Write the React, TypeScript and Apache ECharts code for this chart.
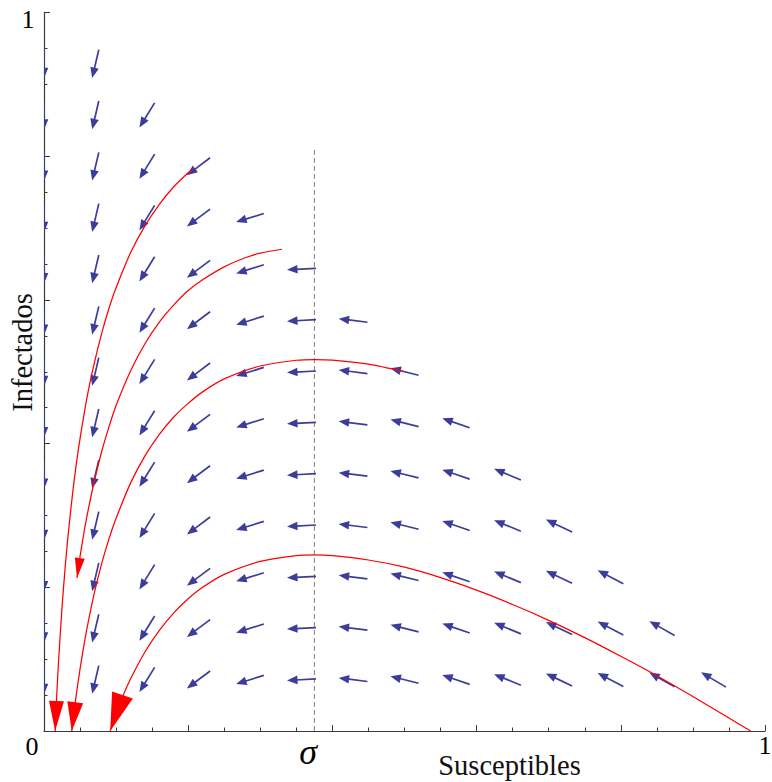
import React, { useEffect, useRef } from "react";
import * as echarts from "echarts";

// ---- data ----
const SIGMA = 0.375; // position of the dashed line (σ)
const SIGMA_LINE_TOP = 0.811;

// vector-field grid (S columns, I rows)
const gridS = [0, 0.0714, 0.1429, 0.2143, 0.2857, 0.3571, 0.4286, 0.5, 0.5714, 0.6429, 0.7143, 0.7857, 0.8571, 0.9286];
const gridI = [0.0714, 0.1429, 0.2143, 0.2857, 0.3571, 0.4286, 0.5, 0.5714, 0.6429, 0.7143, 0.7857, 0.8571, 0.9286];
// arrow direction per column (degrees, counter-clockwise from +S)
const columnAngleDeg = [-90, -103.2, -121.6, -143.1, -162.6, -177.1, 172.9, 166.0, 161.0, 157.4, 154.6, 152.4, 150.6, 149.2];
// number of arrows in each row (from the left), rows bottom to top
const arrowsPerRow = [14, 13, 12, 11, 10, 9, 8, 7, 6, 5, 4, 3, 2];

// trajectories (S, I)
const curve1 = [
  [0.207, 0.783], [0.2, 0.777], [0.18, 0.7575], [0.16, 0.733], [0.14, 0.703], [0.12, 0.6655],
  [0.1, 0.617], [0.09, 0.588], [0.08, 0.5535], [0.07, 0.513], [0.06, 0.466], [0.05, 0.407],
  [0.045, 0.373], [0.04, 0.3335], [0.035, 0.288], [0.03, 0.2355], [0.025, 0.172], [0.02, 0.094],
  [0.0175, 0.046], [0.0155, 0],
];
const curve2 = [
  [0.33, 0.6705], [0.3, 0.665], [0.28, 0.659], [0.25, 0.646], [0.22, 0.628], [0.2, 0.613],
  [0.18, 0.593], [0.16, 0.569], [0.14, 0.539], [0.12, 0.501], [0.1, 0.453], [0.09, 0.423],
  [0.08, 0.389], [0.07, 0.349], [0.06, 0.301], [0.055, 0.2735], [0.05, 0.243], [0.0458, 0.213],
];
const curve3 = [
  [0.5, 0.5], [0.45, 0.5105], [0.4, 0.5163], [0.375, 0.517], [0.35, 0.516], [0.3, 0.508],
  [0.25, 0.49], [0.22, 0.472], [0.2, 0.456], [0.18, 0.437], [0.16, 0.413], [0.14, 0.383],
  [0.12, 0.345], [0.1, 0.296], [0.09, 0.267], [0.08, 0.233], [0.07, 0.193], [0.06, 0.145],
  [0.055, 0.117], [0.05, 0.0865], [0.045, 0.052], [0.042, 0.029], [0.04, 0.013], [0.0385, 0],
];
const curve4 = [
  [0.98, 0], [0.95, 0.018], [0.9, 0.048], [0.85, 0.077], [0.8, 0.104], [0.75, 0.13],
  [0.7, 0.154], [0.65, 0.176], [0.6, 0.196], [0.55, 0.2135], [0.5, 0.228], [0.45, 0.238],
  [0.4, 0.244], [0.375, 0.245], [0.35, 0.244], [0.3, 0.236], [0.25, 0.218], [0.22, 0.2],
  [0.2, 0.184], [0.18, 0.1645], [0.16, 0.14], [0.14, 0.11], [0.12, 0.0725], [0.11, 0.05],
  [0.1, 0.024], [0.0918, 0],
];
// arrowheads at curve ends: [tipS, tipI, backS, backI]
const curveHeads = [
  [0.0155, 0, 0.0175, 0.046],
  [0.0458, 0.213, 0.05, 0.243],
  [0.0385, 0, 0.042, 0.029],
  [0.0918, 0, 0.1, 0.024],
];

const xTickLabels = ["0", "1"];
const yTickLabels = ["1"];
const sigmaLabel = "σ";
const xTitle = "Susceptibles";
const yTitle = "Infectados";

// ---- styles ----
const BLUE = "#3c3c9a";
const RED = "#ff0000";
const AXIS = "#3a3a3a";
const FONT = "'Liberation Serif', 'Times New Roman', serif";
const headLen = [30, 20, 29, 38];
const headWid = [15, 10, 16, 22];

export default function App() {
  const ref = useRef<HTMLDivElement>(null);

  useEffect(() => {
    const chart = echarts.init(ref.current!, null, { renderer: "svg" });

    const arrowData: number[][] = [];
    gridI.forEach((iv, r) => {
      for (let c = 0; c < arrowsPerRow[r]; c++) arrowData.push([gridS[c], iv, columnAngleDeg[c]]);
    });
    const headData = curveHeads.map((h, i) => [...h, i]);

    const axisCommon = {
      type: "value",
      min: 0,
      max: 1,
      interval: 0.2,
      axisLine: { show: true, onZero: false, lineStyle: { color: AXIS, width: 1.2 } },
      axisTick: { show: true, inside: true, length: 6, lineStyle: { color: AXIS, width: 1 } },
      minorTick: { show: true, splitNumber: 4, length: 3.5, lineStyle: { color: AXIS, width: 1 } },
      axisLabel: { show: false },
      splitLine: { show: false },
      minorSplitLine: { show: false },
    };

    const redLine = (data: number[][]) => ({
      type: "line",
      data,
      showSymbol: false,
      symbol: "none",
      smooth: 0.25,
      z: 4,
      lineStyle: { color: RED, width: 1.25 },
      silent: true,
    });

    const option: any = {
      animation: false,
      backgroundColor: "#ffffff",
      grid: { left: 44, top: 12.5, width: 721, height: 718.5, outerBoundsMode: "none" },
      xAxis: { ...axisCommon },
      yAxis: { ...axisCommon },
      series: [
        {
          type: "line",
          data: [[SIGMA, 0], [SIGMA, SIGMA_LINE_TOP]],
          showSymbol: false,
          symbol: "none",
          z: 1,
          lineStyle: { color: "#808080", width: 1, type: [5, 3] },
          silent: true,
        },
        {
          type: "custom",
          clip: true,
          z: 3,
          silent: true,
          encode: { x: 0, y: 1 },
          data: arrowData,
          renderItem: (params: any, api: any) => {
            const p = api.coord([api.value(0), api.value(1)]);
            const a = (api.value(2) * Math.PI) / 180;
            const dx = Math.cos(a);
            const dy = -Math.sin(a);
            const L = 29;
            const HL = 10.5;
            const HW = 4.3;
            const tail = [p[0] - (dx * L) / 2, p[1] - (dy * L) / 2];
            const tip = [p[0] + (dx * L) / 2, p[1] + (dy * L) / 2];
            const base = [tip[0] - dx * HL, tip[1] - dy * HL];
            const px = -dy;
            const py = dx;
            return {
              type: "group",
              children: [
                {
                  type: "line",
                  shape: { x1: tail[0], y1: tail[1], x2: base[0] + dx * 2, y2: base[1] + dy * 2 },
                  style: { stroke: BLUE, lineWidth: 1.7 },
                },
                {
                  type: "polygon",
                  shape: {
                    points: [tip, [base[0] + px * HW, base[1] + py * HW], [base[0] - px * HW, base[1] - py * HW]],
                  },
                  style: { fill: BLUE },
                },
              ],
            };
          },
        },
        redLine(curve1),
        redLine(curve2),
        redLine(curve3),
        redLine(curve4),
        {
          type: "custom",
          clip: false,
          z: 5,
          silent: true,
          encode: { x: 0, y: 1 },
          data: headData,
          renderItem: (params: any, api: any) => {
            const tip = api.coord([api.value(0), api.value(1)]);
            const back = api.coord([api.value(2), api.value(3)]);
            const idx = api.value(4);
            let dx = tip[0] - back[0];
            let dy = tip[1] - back[1];
            const n = Math.hypot(dx, dy) || 1;
            dx /= n;
            dy /= n;
            const L = headLen[idx];
            const W = headWid[idx] / 2;
            const base = [tip[0] - dx * L, tip[1] - dy * L];
            const px = -dy;
            const py = dx;
            return {
              type: "polygon",
              shape: {
                points: [tip, [base[0] + px * W, base[1] + py * W], [base[0] - px * W, base[1] - py * W]],
              },
              style: { fill: RED },
            };
          },
        },
      ],
      graphic: [
        {
          type: "text",
          x: 32,
          y: 746,
          style: { text: xTickLabels[0], fontSize: 26, fontFamily: FONT, fill: "#000", align: "center", verticalAlign: "middle" },
        },
        {
          type: "text",
          x: 765,
          y: 745,
          style: { text: xTickLabels[1], fontSize: 26, fontFamily: FONT, fill: "#000", align: "center", verticalAlign: "middle" },
        },
        {
          type: "text",
          x: 28,
          y: 19,
          style: { text: yTickLabels[0], fontSize: 26, fontFamily: FONT, fill: "#000", align: "center", verticalAlign: "middle" },
        },
        {
          type: "text",
          x: 308,
          y: 752,
          style: {
            text: sigmaLabel,
            fontSize: 36,
            fontStyle: "italic",
            fontFamily: FONT,
            fill: "#000",
            align: "center",
            verticalAlign: "middle",
          },
        },
        {
          type: "text",
          x: 509.5,
          y: 765.5,
          style: { text: xTitle, fontSize: 28.5, fontFamily: FONT, fill: "#111", align: "center", verticalAlign: "middle" },
        },
        {
          type: "text",
          x: 22,
          y: 352.5,
          rotation: Math.PI / 2,
          style: { text: yTitle, fontSize: 28.5, fontFamily: FONT, fill: "#111", align: "center", verticalAlign: "middle" },
        },
      ],
    };

    chart.setOption(option);
    return () => chart.dispose();
  }, []);

  return (
    <div
      ref={ref}
      style={{ position: "fixed", left: 0, top: 0, width: 772, height: 782, background: "#fff" }}
    />
  );
}
